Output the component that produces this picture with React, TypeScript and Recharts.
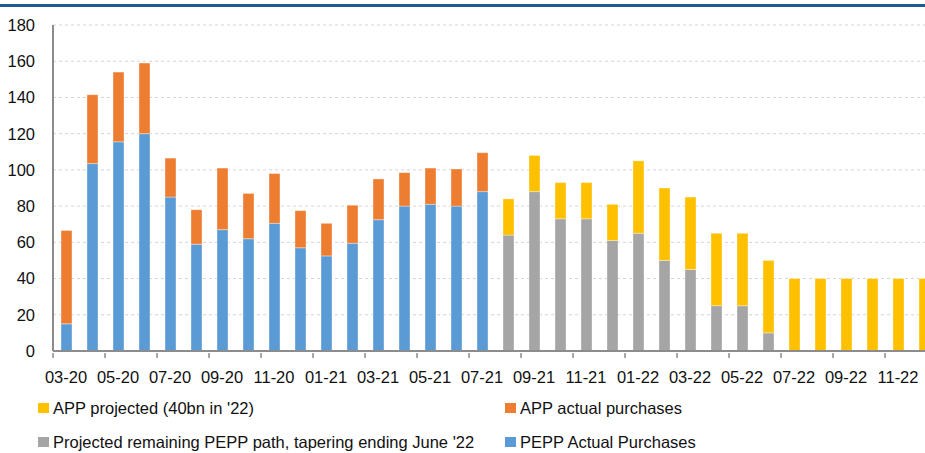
import React from "react";
import { BarChart, Bar, XAxis, YAxis, CartesianGrid, Legend } from "recharts";

const months = [
  "03-20", "04-20", "05-20", "06-20", "07-20", "08-20", "09-20", "10-20", "11-20", "12-20",
  "01-21", "02-21", "03-21", "04-21", "05-21", "06-21", "07-21", "08-21", "09-21", "10-21",
  "11-21", "12-21", "01-22", "02-22", "03-22", "04-22", "05-22", "06-22", "07-22", "08-22",
  "09-22", "10-22", "11-22", "12-22",
];

const peppActual = [
  15, 103.5, 115.5, 120, 85, 59, 67, 62, 70.5, 57, 52.5, 59.5, 72.5, 80, 81, 80, 88,
];
const appActual = [
  51.5, 38, 38.5, 39, 21.5, 19, 34, 25, 27.5, 20.5, 18, 21, 22.5, 18.5, 20, 20.5, 21.5,
];
// projections start at 08-21
const peppProjected = [64, 88, 73, 73, 61, 65, 50, 45, 25, 25, 10];
const appProjected = [20, 20, 20, 20, 20, 40, 40, 40, 40, 40, 40, 40, 40, 40, 40, 40, 40];

const yTicks = [0, 20, 40, 60, 80, 100, 120, 140, 160, 180];

const FIRST_PROJ = 17;

const data = months.map((m, i) => ({
  month: m,
  peppActual: peppActual[i] ?? 0,
  peppProjected: i >= FIRST_PROJ ? peppProjected[i - FIRST_PROJ] ?? 0 : 0,
  appActual: appActual[i] ?? 0,
  appProjected: i >= FIRST_PROJ ? appProjected[i - FIRST_PROJ] ?? 0 : 0,
}));

const COLORS = {
  peppActual: "#5b9bd5",
  peppProjected: "#a5a5a5",
  appActual: "#ed7d31",
  appProjected: "#ffc000",
};

const FONT = "'Liberation Sans', Arial, sans-serif";
const STEP = 26;

const XTick = (props: any) => {
  const { x, y, payload } = props;
  return (
    <g>
      <line x1={x - STEP / 2} y1={y} x2={x - STEP / 2} y2={y + 5} stroke="#8c8c8c" strokeWidth={1.5} />
      <text x={x} y={y + 30} textAnchor="middle" fill="#111" fontSize={16.5} fontFamily={FONT}>
        {payload.value}
      </text>
    </g>
  );
};

const legendItems = [
  { label: "APP projected (40bn in '22)", color: COLORS.appProjected, left: 38, top: 27 },
  { label: "APP actual purchases", color: COLORS.appActual, left: 505, top: 27 },
  { label: "Projected remaining PEPP path, tapering ending June '22", color: COLORS.peppProjected, left: 38, top: 61 },
  { label: "PEPP Actual Purchases", color: COLORS.peppActual, left: 505, top: 61 },
];

const renderLegend = () => (
  <div style={{ position: "relative", height: 70, width: 925 }}>
    {legendItems.map((it) => (
      <div
        key={it.label}
        style={{
          position: "absolute",
          left: it.left,
          top: it.top - 10,
          height: 20,
          display: "flex",
          alignItems: "center",
          fontFamily: FONT,
          fontSize: 16.5,
          color: "#111",
          whiteSpace: "nowrap",
        }}
      >
        <span style={{ width: 11, height: 10, background: it.color, marginRight: 4, display: "inline-block" }} />
        {it.label}
      </div>
    ))}
  </div>
);

export default function App() {
  return (
    <div
      style={{
        position: "absolute",
        left: 0,
        top: 0,
        width: 925,
        height: 453,
        overflow: "hidden",
        background: "#fff",
      }}
    >
      <div style={{ position: "absolute", left: 0, top: 4, width: 925, height: 3, background: "#1f5a8e" }} />
      <BarChart
        width={940}
        height={453}
        data={data}
        margin={{ top: 25, right: 3, bottom: 2, left: 0 }}
        barSize={11}
      >
        <CartesianGrid vertical={false} stroke="#d4d4d4" strokeDasharray="3 3" />
        <XAxis
          dataKey="month"
          interval={1}
          height={30}
          tickSize={0}
          tickLine={false}
          axisLine={{ stroke: "#8c8c8c", strokeWidth: 2 }}
          tick={<XTick />}
        />
        <YAxis
          width={53}
          domain={[0, 180]}
          ticks={yTicks}
          tickLine={false}
          tickSize={6}
          tickMargin={12}
          axisLine={{ stroke: "#8c8c8c", strokeWidth: 2 }}
          tick={{ fill: "#111", fontSize: 16.5, fontFamily: FONT }}
        />
        <Legend verticalAlign="bottom" height={70} content={renderLegend} wrapperStyle={{ left: 0, width: 925 }} />
        <Bar dataKey="peppActual" stackId="a" fill={COLORS.peppActual} stroke="#ffffff" strokeOpacity={0.35} isAnimationActive={false} />
        <Bar dataKey="peppProjected" stackId="a" fill={COLORS.peppProjected} stroke="#ffffff" strokeOpacity={0.35} isAnimationActive={false} />
        <Bar dataKey="appActual" stackId="a" fill={COLORS.appActual} stroke="#ffffff" strokeOpacity={0.35} isAnimationActive={false} />
        <Bar dataKey="appProjected" stackId="a" fill={COLORS.appProjected} stroke="#ffffff" strokeOpacity={0.35} isAnimationActive={false} />
      </BarChart>
    </div>
  );
}
